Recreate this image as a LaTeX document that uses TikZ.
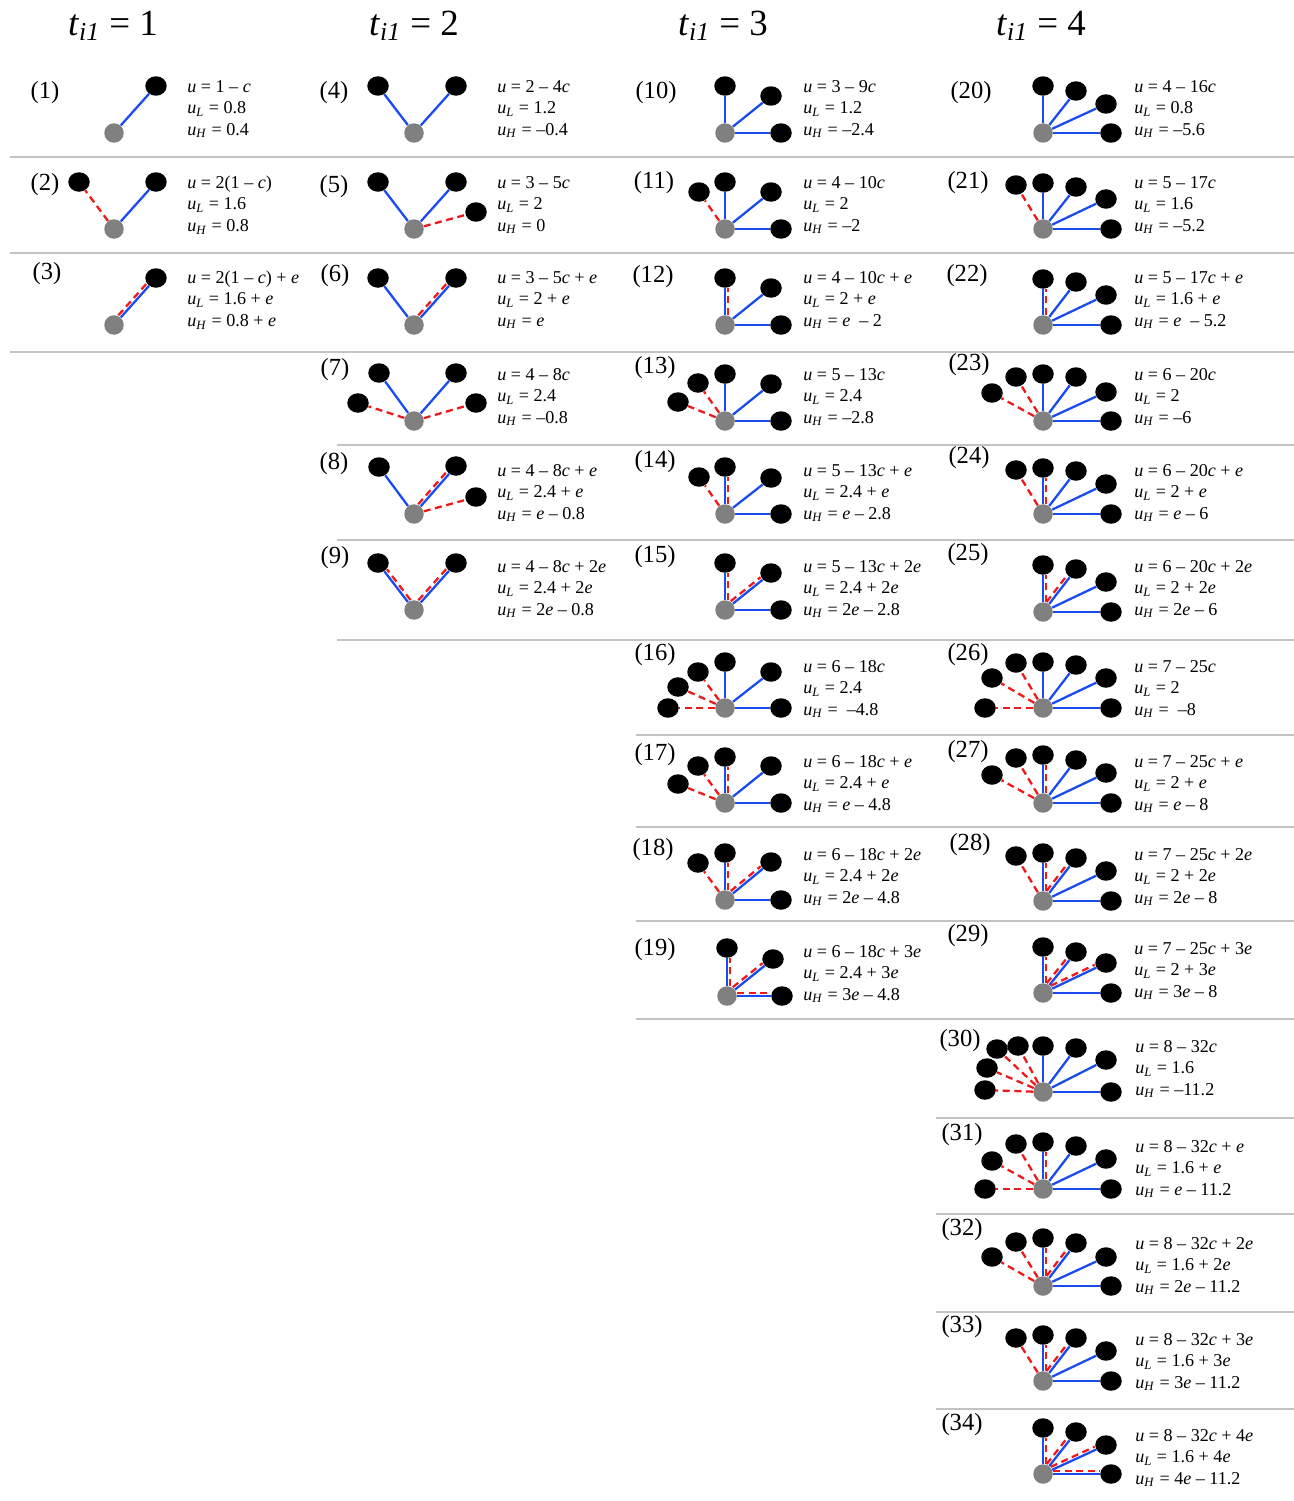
\documentclass[tikz,border=0pt]{standalone}
\usepackage{fontspec}
\setmainfont{Liberation Serif}
\usetikzlibrary{shapes.geometric}
\definecolor{edgeblue}{RGB}{25,75,240}
\definecolor{edgered}{RGB}{240,25,25}
\definecolor{hubgray}{RGB}{128,128,128}
\definecolor{rulegray}{RGB}{195,195,195}
\newcommand{\uu}{\textit{u}}
\newcommand{\uL}{\textit{u}\textsubscript{\textit{L}}}
\newcommand{\uH}{\textit{u}\textsubscript{\textit{H}}}
\newcommand{\vc}{\textit{c}}
\newcommand{\ve}{\textit{e}}

\begin{document}
\begin{tikzpicture}[
  x=0.02cm,y=-0.02cm,
  hub/.style={circle,fill=hubgray,minimum size=0.39cm,inner sep=0pt},
  leaf/.style={ellipse,fill=black,minimum width=0.43cm,minimum height=0.39cm,inner sep=0pt},
  blueedge/.style={draw=edgeblue,line width=1.3pt},
  rededge/.style={draw=edgered,line width=1.3pt,dash pattern=on 4pt off 2.6pt},
  eqs/.style={anchor=west,align=left,inner sep=0pt,font=\fontsize{10.3}{12.2}\selectfont},
  numtag/.style={inner sep=0pt,font=\fontsize{14}{16}\selectfont},
  coltitle/.style={anchor=base,inner sep=0pt,font=\fontsize{21}{24}\selectfont},
  rowrule/.style={draw=rulegray,line width=1.2pt}
]
\useasboundingbox (0,0) rectangle (1294,1501);

% column titles
\node[coltitle] (c1) at (113,35) {\textit{t}\textsubscript{\textit{i1}} = 1};
\node[coltitle] (c2) at (414,35) {\textit{t}\textsubscript{\textit{i1}} = 2};
\node[coltitle] (c3) at (723,35) {\textit{t}\textsubscript{\textit{i1}} = 3};
\node[coltitle] (c4) at (1041,35) {\textit{t}\textsubscript{\textit{i1}} = 4};

% row rules
\draw[rowrule] (10,157) -- (1294,157);
\draw[rowrule] (10,253) -- (1294,253);
\draw[rowrule] (10,352) -- (1294,352);
\draw[rowrule] (337,445) -- (1294,445);
\draw[rowrule] (337,540) -- (1294,540);
\draw[rowrule] (337,640) -- (1294,640);
\draw[rowrule] (636,735) -- (1294,735);
\draw[rowrule] (636,827) -- (1294,827);
\draw[rowrule] (636,921) -- (1294,921);
\draw[rowrule] (636,1019) -- (1294,1019);
\draw[rowrule] (936,1118) -- (1294,1118);
\draw[rowrule] (936,1214) -- (1294,1214);
\draw[rowrule] (936,1312) -- (1294,1312);
\draw[rowrule] (936,1409) -- (1294,1409);

% ===== t = 1 =====
% (1)
\begin{scope}[shift={(114,133)},name prefix=p1-]
  \node[hub] (h) at (0,0) {};
  \node[leaf] (r) at (42,-47) {};
  \draw[blueedge] (h) -- (r);
\end{scope}
\node[numtag] (n1) at (45,93) {(1)};
\node[eqs] (q1) at (187,109) {\uu{} = 1 -- \vc\\\uL{} = 0.8\\\uH{} = 0.4};
% (2)
\begin{scope}[shift={(114,229)},name prefix=p2-]
  \node[hub] (h) at (0,0) {};
  \node[leaf] (l) at (-35,-47) {};
  \node[leaf] (r) at (42,-47) {};
  \draw[rededge] (h) -- (l);
  \draw[blueedge] (h) -- (r);
\end{scope}
\node[numtag] (n2) at (45,185) {(2)};
\node[eqs] (q2) at (187,205) {\uu{} = 2(1 -- \vc)\\\uL{} = 1.6\\\uH{} = 0.8};
% (3)
\begin{scope}[shift={(114,325)},name prefix=p3-]
  \node[hub] (h) at (0,0) {};
  \node[leaf] (r) at (42,-47) {};
  \draw[blueedge] (h) -- (r);
  \draw[rededge,transform canvas={shift={(-2.4,-2.2)}}] (h) -- (r);
\end{scope}
\node[numtag] (n3) at (47,274) {(3)};
\node[eqs] (q3) at (187,300) {\uu{} = 2(1 -- \vc) + \ve\\\uL{} = 1.6 + \ve\\\uH{} = 0.8 + \ve};

% ===== t = 2 =====
% (4)
\begin{scope}[shift={(414,133)},name prefix=p4-]
  \node[hub] (h) at (0,0) {};
  \node[leaf] (l) at (-36,-47) {};
  \node[leaf] (r) at (42,-47) {};
  \draw[blueedge] (h) -- (l);
  \draw[blueedge] (h) -- (r);
\end{scope}
\node[numtag] (n4) at (334,93) {(4)};
\node[eqs] (q4) at (497,109) {\uu{} = 2 -- 4\vc\\\uL{} = 1.2\\\uH{} = --0.4};
% (5)
\begin{scope}[shift={(414,229)},name prefix=p5-]
  \node[hub] (h) at (0,0) {};
  \node[leaf] (l) at (-36,-47) {};
  \node[leaf] (r) at (42,-47) {};
  \node[leaf] (x) at (62,-17) {};
  \draw[blueedge] (h) -- (l);
  \draw[blueedge] (h) -- (r);
  \draw[rededge] (h) -- (x);
\end{scope}
\node[numtag] (n5) at (334,187) {(5)};
\node[eqs] (q5) at (497,205) {\uu{} = 3 -- 5\vc\\\uL{} = 2\\\uH{} = 0};
% (6)
\begin{scope}[shift={(414,325)},name prefix=p6-]
  \node[hub] (h) at (0,0) {};
  \node[leaf] (l) at (-36,-47) {};
  \node[leaf] (r) at (42,-47) {};
  \draw[blueedge] (h) -- (l);
  \draw[blueedge] (h) -- (r);
  \draw[rededge,transform canvas={shift={(-2.4,-2.2)}}] (h) -- (r);
\end{scope}
\node[numtag] (n6) at (335,276) {(6)};
\node[eqs] (q6) at (497,300) {\uu{} = 3 -- 5\vc{} + \ve\\\uL{} = 2 + \ve\\\uH{} = \ve};
% (7)
\begin{scope}[shift={(414,421)},name prefix=p7-]
  \node[hub] (h) at (0,0) {};
  \node[leaf] (y) at (-56,-18) {};
  \node[leaf] (l) at (-35,-48) {};
  \node[leaf] (r) at (42,-48) {};
  \node[leaf] (x) at (62,-18) {};
  \draw[rededge] (h) -- (y);
  \draw[blueedge] (h) -- (l);
  \draw[blueedge] (h) -- (r);
  \draw[rededge] (h) -- (x);
\end{scope}
\node[numtag] (n7) at (335,370) {(7)};
\node[eqs] (q7) at (497,397) {\uu{} = 4 -- 8\vc\\\uL{} = 2.4\\\uH{} = --0.8};
% (8)
\begin{scope}[shift={(414,514)},name prefix=p8-]
  \node[hub] (h) at (0,0) {};
  \node[leaf] (l) at (-35,-47) {};
  \node[leaf] (r) at (42,-48) {};
  \node[leaf] (x) at (62,-17) {};
  \draw[blueedge] (h) -- (l);
  \draw[blueedge] (h) -- (r);
  \draw[rededge,transform canvas={shift={(-2.4,-2.2)}}] (h) -- (r);
  \draw[rededge] (h) -- (x);
\end{scope}
\node[numtag] (n8) at (334,464) {(8)};
\node[eqs] (q8) at (497,493) {\uu{} = 4 -- 8\vc{} + \ve\\\uL{} = 2.4 + \ve\\\uH{} = \ve{} -- 0.8};
% (9)
\begin{scope}[shift={(414,610)},name prefix=p9-]
  \node[hub] (h) at (0,0) {};
  \node[leaf] (l) at (-36,-47) {};
  \node[leaf] (r) at (42,-47) {};
  \draw[blueedge] (h) -- (l);
  \draw[rededge,transform canvas={shift={(2.6,-2)}}] (h) -- (l);
  \draw[blueedge] (h) -- (r);
  \draw[rededge,transform canvas={shift={(-2.4,-2.2)}}] (h) -- (r);
\end{scope}
\node[numtag] (n9) at (335,558) {(9)};
\node[eqs] (q9) at (497,589) {\uu{} = 4 -- 8\vc{} + 2\ve\\\uL{} = 2.4 + 2\ve\\\uH{} = 2\ve{} -- 0.8};

% ===== t = 3 =====
% (10)
\begin{scope}[shift={(725,133)},name prefix=p10-]
  \node[hub] (h) at (0,0) {};
  \node[leaf] (d) at (0,-47) {};
  \node[leaf] (e) at (46,-37) {};
  \node[leaf] (f) at (56,0) {};
  \draw[blueedge] (h) -- (d);
  \draw[blueedge] (h) -- (e);
  \draw[blueedge] (h) -- (f);
\end{scope}
\node[numtag] (n10) at (656,93) {(10)};
\node[eqs] (q10) at (803,109) {\uu{} = 3 -- 9\vc\\\uL{} = 1.2\\\uH{} = --2.4};
% (11)
\begin{scope}[shift={(725,229)},name prefix=p11-]
  \node[hub] (h) at (0,0) {};
  \node[leaf] (c) at (-26,-37) {};
  \node[leaf] (d) at (0,-47) {};
  \node[leaf] (e) at (46,-37) {};
  \node[leaf] (f) at (56,0) {};
  \draw[rededge] (h) -- (c);
  \draw[blueedge] (h) -- (d);
  \draw[blueedge] (h) -- (e);
  \draw[blueedge] (h) -- (f);
\end{scope}
\node[numtag] (n11) at (654,183) {(11)};
\node[eqs] (q11) at (803,205) {\uu{} = 4 -- 10\vc\\\uL{} = 2\\\uH{} = --2};
% (12)
\begin{scope}[shift={(725,325)},name prefix=p12-]
  \node[hub] (h) at (0,0) {};
  \node[leaf] (d) at (0,-47) {};
  \node[leaf] (e) at (46,-37) {};
  \node[leaf] (f) at (56,0) {};
  \draw[blueedge] (h) -- (d);
  \draw[rededge,transform canvas={shift={(3,0)}}] (h) -- (d);
  \draw[blueedge] (h) -- (e);
  \draw[blueedge] (h) -- (f);
\end{scope}
\node[numtag] (n12) at (653,277) {(12)};
\node[eqs] (q12) at (803,300) {\uu{} = 4 -- 10\vc{} + \ve\\\uL{} = 2 + \ve\\\uH{} = \ve{}\ \ -- 2};
% (13)
\begin{scope}[shift={(725,421)},name prefix=p13-]
  \node[hub] (h) at (0,0) {};
  \node[leaf] (b) at (-47,-19) {};
  \node[leaf] (c) at (-27,-38) {};
  \node[leaf] (d) at (0,-47) {};
  \node[leaf] (e) at (46,-37) {};
  \node[leaf] (f) at (56,0) {};
  \draw[rededge] (h) -- (b);
  \draw[rededge] (h) -- (c);
  \draw[blueedge] (h) -- (d);
  \draw[blueedge] (h) -- (e);
  \draw[blueedge] (h) -- (f);
\end{scope}
\node[numtag] (n13) at (655,368) {(13)};
\node[eqs] (q13) at (803,397) {\uu{} = 5 -- 13\vc\\\uL{} = 2.4\\\uH{} = --2.8};
% (14)
\begin{scope}[shift={(725,514)},name prefix=p14-]
  \node[hub] (h) at (0,0) {};
  \node[leaf] (c) at (-26,-37) {};
  \node[leaf] (d) at (0,-47) {};
  \node[leaf] (e) at (46,-36) {};
  \node[leaf] (f) at (56,0) {};
  \draw[rededge] (h) -- (c);
  \draw[blueedge] (h) -- (d);
  \draw[rededge,transform canvas={shift={(3,0)}}] (h) -- (d);
  \draw[blueedge] (h) -- (e);
  \draw[blueedge] (h) -- (f);
\end{scope}
\node[numtag] (n14) at (655,462) {(14)};
\node[eqs] (q14) at (803,493) {\uu{} = 5 -- 13\vc{} + \ve\\\uL{} = 2.4 + \ve\\\uH{} = \ve{} -- 2.8};
% (15)
\begin{scope}[shift={(725,610)},name prefix=p15-]
  \node[hub] (h) at (0,0) {};
  \node[leaf] (d) at (0,-47) {};
  \node[leaf] (e) at (46,-37) {};
  \node[leaf] (f) at (56,0) {};
  \draw[blueedge] (h) -- (d);
  \draw[rededge,transform canvas={shift={(3,0)}}] (h) -- (d);
  \draw[blueedge] (h) -- (e);
  \draw[rededge,transform canvas={shift={(-2.1,-2.5)}}] (h) -- (e);
  \draw[blueedge] (h) -- (f);
\end{scope}
\node[numtag] (n15) at (655,557) {(15)};
\node[eqs] (q15) at (803,589) {\uu{} = 5 -- 13\vc{} + 2\ve\\\uL{} = 2.4 + 2\ve\\\uH{} = 2\ve{} -- 2.8};
% (16)
\begin{scope}[shift={(725,708)},name prefix=p16-]
  \node[hub] (h) at (0,0) {};
  \node[leaf] (a) at (-57,0) {};
  \node[leaf] (b) at (-47,-21) {};
  \node[leaf] (c) at (-27,-36) {};
  \node[leaf] (d) at (0,-46) {};
  \node[leaf] (e) at (46,-36) {};
  \node[leaf] (f) at (56,0) {};
  \draw[rededge] (h) -- (a);
  \draw[rededge] (h) -- (b);
  \draw[rededge] (h) -- (c);
  \draw[blueedge] (h) -- (d);
  \draw[blueedge] (h) -- (e);
  \draw[blueedge] (h) -- (f);
\end{scope}
\node[numtag] (n16) at (655,655) {(16)};
\node[eqs] (q16) at (803,689) {\uu{} = 6 -- 18\vc\\\uL{} = 2.4\\\uH{} =\ \ --4.8};
% (17)
\begin{scope}[shift={(725,803)},name prefix=p17-]
  \node[hub] (h) at (0,0) {};
  \node[leaf] (b) at (-47,-19) {};
  \node[leaf] (c) at (-27,-37) {};
  \node[leaf] (d) at (0,-46) {};
  \node[leaf] (e) at (46,-37) {};
  \node[leaf] (f) at (56,0) {};
  \draw[rededge] (h) -- (b);
  \draw[rededge] (h) -- (c);
  \draw[blueedge] (h) -- (d);
  \draw[rededge,transform canvas={shift={(3,0)}}] (h) -- (d);
  \draw[blueedge] (h) -- (e);
  \draw[blueedge] (h) -- (f);
\end{scope}
\node[numtag] (n17) at (655,755) {(17)};
\node[eqs] (q17) at (803,784) {\uu{} = 6 -- 18\vc{} + \ve\\\uL{} = 2.4 + \ve\\\uH{} = \ve{} -- 4.8};
% (18)
\begin{scope}[shift={(725,900)},name prefix=p18-]
  \node[hub] (h) at (0,0) {};
  \node[leaf] (c) at (-27,-37) {};
  \node[leaf] (d) at (0,-47) {};
  \node[leaf] (e) at (46,-38) {};
  \node[leaf] (f) at (56,0) {};
  \draw[rededge] (h) -- (c);
  \draw[blueedge] (h) -- (d);
  \draw[rededge,transform canvas={shift={(3,0)}}] (h) -- (d);
  \draw[blueedge] (h) -- (e);
  \draw[rededge,transform canvas={shift={(-2.1,-2.5)}}] (h) -- (e);
  \draw[blueedge] (h) -- (f);
\end{scope}
\node[numtag] (n18) at (653,850) {(18)};
\node[eqs] (q18) at (803,877) {\uu{} = 6 -- 18\vc{} + 2\ve\\\uL{} = 2.4 + 2\ve\\\uH{} = 2\ve{} -- 4.8};
% (19)
\begin{scope}[shift={(727,996)},name prefix=p19-]
  \node[hub] (h) at (0,0) {};
  \node[leaf] (d) at (0,-48) {};
  \node[leaf] (e) at (46,-37) {};
  \node[leaf] (f) at (55,0) {};
  \draw[blueedge] (h) -- (d);
  \draw[rededge,transform canvas={shift={(3,0)}}] (h) -- (d);
  \draw[blueedge] (h) -- (e);
  \draw[rededge,transform canvas={shift={(-2.1,-2.5)}}] (h) -- (e);
  \draw[blueedge] (h) -- (f);
  \draw[rededge,transform canvas={shift={(0,-3)}}] (h) -- (f);
\end{scope}
\node[numtag] (n19) at (655,950) {(19)};
\node[eqs] (q19) at (803,974) {\uu{} = 6 -- 18\vc{} + 3\ve\\\uL{} = 2.4 + 3\ve\\\uH{} = 3\ve{} -- 4.8};

% ===== t = 4 =====
% (20)
\begin{scope}[shift={(1043,133)},name prefix=p20-]
  \node[hub] (h) at (0,0) {};
  \node[leaf] (t) at (0,-47) {};
  \node[leaf] (r2) at (33,-42) {};
  \node[leaf] (r3) at (63,-29) {};
  \node[leaf] (r4) at (68,0) {};
  \draw[blueedge] (h) -- (t);
  \draw[blueedge] (h) -- (r2);
  \draw[blueedge] (h) -- (r3);
  \draw[blueedge] (h) -- (r4);
\end{scope}
\node[numtag] (n20) at (971,93) {(20)};
\node[eqs] (q20) at (1134,109) {\uu{} = 4 -- 16\vc\\\uL{} = 0.8\\\uH{} = --5.6};
% (21)
\begin{scope}[shift={(1043,229)},name prefix=p21-]
  \node[hub] (h) at (0,0) {};
  \node[leaf] (l1) at (-27,-44) {};
  \node[leaf] (t) at (0,-46) {};
  \node[leaf] (r2) at (33,-42) {};
  \node[leaf] (r3) at (63,-30) {};
  \node[leaf] (r4) at (68,0) {};
  \draw[rededge] (h) -- (l1);
  \draw[blueedge] (h) -- (t);
  \draw[blueedge] (h) -- (r2);
  \draw[blueedge] (h) -- (r3);
  \draw[blueedge] (h) -- (r4);
\end{scope}
\node[numtag] (n21) at (968,183) {(21)};
\node[eqs] (q21) at (1134,205) {\uu{} = 5 -- 17\vc\\\uL{} = 1.6\\\uH{} = --5.2};
% (22)
\begin{scope}[shift={(1043,325)},name prefix=p22-]
  \node[hub] (h) at (0,0) {};
  \node[leaf] (t) at (0,-46) {};
  \node[leaf] (r2) at (33,-43) {};
  \node[leaf] (r3) at (63,-30) {};
  \node[leaf] (r4) at (68,0) {};
  \draw[blueedge] (h) -- (t);
  \draw[rededge,transform canvas={shift={(3,0)}}] (h) -- (t);
  \draw[blueedge] (h) -- (r2);
  \draw[blueedge] (h) -- (r3);
  \draw[blueedge] (h) -- (r4);
\end{scope}
\node[numtag] (n22) at (967,276) {(22)};
\node[eqs] (q22) at (1134,300) {\uu{} = 5 -- 17\vc{} + \ve\\\uL{} = 1.6 + \ve\\\uH{} = \ve{}\ \ -- 5.2};
% (23)
\begin{scope}[shift={(1043,421)},name prefix=p23-]
  \node[hub] (h) at (0,0) {};
  \node[leaf] (l2) at (-51,-28) {};
  \node[leaf] (l1) at (-27,-44) {};
  \node[leaf] (t) at (0,-47) {};
  \node[leaf] (r2) at (33,-44) {};
  \node[leaf] (r3) at (63,-29) {};
  \node[leaf] (r4) at (68,0) {};
  \draw[rededge] (h) -- (l2);
  \draw[rededge] (h) -- (l1);
  \draw[blueedge] (h) -- (t);
  \draw[blueedge] (h) -- (r2);
  \draw[blueedge] (h) -- (r3);
  \draw[blueedge] (h) -- (r4);
\end{scope}
\node[numtag] (n23) at (969,365) {(23)};
\node[eqs] (q23) at (1134,397) {\uu{} = 6 -- 20\vc\\\uL{} = 2\\\uH{} = --6};
% (24)
\begin{scope}[shift={(1043,514)},name prefix=p24-]
  \node[hub] (h) at (0,0) {};
  \node[leaf] (l1) at (-27,-44) {};
  \node[leaf] (t) at (0,-46) {};
  \node[leaf] (r2) at (33,-43) {};
  \node[leaf] (r3) at (63,-30) {};
  \node[leaf] (r4) at (68,0) {};
  \draw[rededge] (h) -- (l1);
  \draw[blueedge] (h) -- (t);
  \draw[rededge,transform canvas={shift={(3,0)}}] (h) -- (t);
  \draw[blueedge] (h) -- (r2);
  \draw[blueedge] (h) -- (r3);
  \draw[blueedge] (h) -- (r4);
\end{scope}
\node[numtag] (n24) at (969,458) {(24)};
\node[eqs] (q24) at (1134,493) {\uu{} = 6 -- 20\vc{} + \ve\\\uL{} = 2 + \ve\\\uH{} = \ve{} -- 6};
% (25)
\begin{scope}[shift={(1043,612)},name prefix=p25-]
  \node[hub] (h) at (0,0) {};
  \node[leaf] (t) at (0,-47) {};
  \node[leaf] (r2) at (33,-43) {};
  \node[leaf] (r3) at (63,-30) {};
  \node[leaf] (r4) at (68,0) {};
  \draw[blueedge] (h) -- (t);
  \draw[rededge,transform canvas={shift={(3,0)}}] (h) -- (t);
  \draw[blueedge] (h) -- (r2);
  \draw[rededge,transform canvas={shift={(-2.6,-2)}}] (h) -- (r2);
  \draw[blueedge] (h) -- (r3);
  \draw[blueedge] (h) -- (r4);
\end{scope}
\node[numtag] (n25) at (968,555) {(25)};
\node[eqs] (q25) at (1134,589) {\uu{} = 6 -- 20\vc{} + 2\ve\\\uL{} = 2 + 2\ve\\\uH{} = 2\ve{} -- 6};
% (26)
\begin{scope}[shift={(1043,708)},name prefix=p26-]
  \node[hub] (h) at (0,0) {};
  \node[leaf] (l3) at (-58,0) {};
  \node[leaf] (l2) at (-51,-30) {};
  \node[leaf] (l1) at (-27,-45) {};
  \node[leaf] (t) at (0,-46) {};
  \node[leaf] (r2) at (33,-43) {};
  \node[leaf] (r3) at (63,-30) {};
  \node[leaf] (r4) at (68,0) {};
  \draw[rededge] (h) -- (l3);
  \draw[rededge] (h) -- (l2);
  \draw[rededge] (h) -- (l1);
  \draw[blueedge] (h) -- (t);
  \draw[blueedge] (h) -- (r2);
  \draw[blueedge] (h) -- (r3);
  \draw[blueedge] (h) -- (r4);
\end{scope}
\node[numtag] (n26) at (968,655) {(26)};
\node[eqs] (q26) at (1134,689) {\uu{} = 7 -- 25\vc\\\uL{} = 2\\\uH{} =\ \ --8};
% (27)
\begin{scope}[shift={(1043,803)},name prefix=p27-]
  \node[hub] (h) at (0,0) {};
  \node[leaf] (l2) at (-51,-28) {};
  \node[leaf] (l1) at (-27,-45) {};
  \node[leaf] (t) at (0,-48) {};
  \node[leaf] (r2) at (33,-43) {};
  \node[leaf] (r3) at (63,-30) {};
  \node[leaf] (r4) at (68,0) {};
  \draw[rededge] (h) -- (l2);
  \draw[rededge] (h) -- (l1);
  \draw[blueedge] (h) -- (t);
  \draw[rededge,transform canvas={shift={(3,0)}}] (h) -- (t);
  \draw[blueedge] (h) -- (r2);
  \draw[blueedge] (h) -- (r3);
  \draw[blueedge] (h) -- (r4);
\end{scope}
\node[numtag] (n27) at (968,752) {(27)};
\node[eqs] (q27) at (1134,784) {\uu{} = 7 -- 25\vc{} + \ve\\\uL{} = 2 + \ve\\\uH{} = \ve{} -- 8};
% (28)
\begin{scope}[shift={(1043,901)},name prefix=p28-]
  \node[hub] (h) at (0,0) {};
  \node[leaf] (l1) at (-27,-45) {};
  \node[leaf] (t) at (0,-48) {};
  \node[leaf] (r2) at (33,-43) {};
  \node[leaf] (r3) at (63,-30) {};
  \node[leaf] (r4) at (68,0) {};
  \draw[rededge] (h) -- (l1);
  \draw[blueedge] (h) -- (t);
  \draw[rededge,transform canvas={shift={(3,0)}}] (h) -- (t);
  \draw[blueedge] (h) -- (r2);
  \draw[rededge,transform canvas={shift={(-2.6,-2)}}] (h) -- (r2);
  \draw[blueedge] (h) -- (r3);
  \draw[blueedge] (h) -- (r4);
\end{scope}
\node[numtag] (n28) at (970,845) {(28)};
\node[eqs] (q28) at (1134,877) {\uu{} = 7 -- 25\vc{} + 2\ve\\\uL{} = 2 + 2\ve\\\uH{} = 2\ve{} -- 8};
% (29)
\begin{scope}[shift={(1043,993)},name prefix=p29-]
  \node[hub] (h) at (0,0) {};
  \node[leaf] (t) at (0,-46) {};
  \node[leaf] (r2) at (33,-41) {};
  \node[leaf] (r3) at (63,-30) {};
  \node[leaf] (r4) at (68,0) {};
  \draw[blueedge] (h) -- (t);
  \draw[rededge,transform canvas={shift={(3,0)}}] (h) -- (t);
  \draw[blueedge] (h) -- (r2);
  \draw[rededge,transform canvas={shift={(-2.6,-2)}}] (h) -- (r2);
  \draw[blueedge] (h) -- (r3);
  \draw[rededge,transform canvas={shift={(-1.4,-2.9)}}] (h) -- (r3);
  \draw[blueedge] (h) -- (r4);
\end{scope}
\node[numtag] (n29) at (968,936) {(29)};
\node[eqs] (q29) at (1134,971) {\uu{} = 7 -- 25\vc{} + 3\ve\\\uL{} = 2 + 3\ve\\\uH{} = 3\ve{} -- 8};
% (30)
\begin{scope}[shift={(1043,1092)},name prefix=p30-]
  \node[hub] (h) at (0,0) {};
  \node[leaf] (l4) at (-58,-2) {};
  \node[leaf] (l3) at (-56,-24) {};
  \node[leaf] (l2) at (-46,-43) {};
  \node[leaf] (l1) at (-25,-46) {};
  \node[leaf] (t) at (0,-46) {};
  \node[leaf] (r2) at (33,-44) {};
  \node[leaf] (r3) at (63,-32) {};
  \node[leaf] (r4) at (68,0) {};
  \draw[rededge] (h) -- (l4);
  \draw[rededge] (h) -- (l3);
  \draw[rededge] (h) -- (l2);
  \draw[rededge] (h) -- (l1);
  \draw[blueedge] (h) -- (t);
  \draw[blueedge] (h) -- (r2);
  \draw[blueedge] (h) -- (r3);
  \draw[blueedge] (h) -- (r4);
\end{scope}
\node[numtag] (n30) at (960,1041) {(30)};
\node[eqs] (q30) at (1135,1069) {\uu{} = 8 -- 32\vc\\\uL{} = 1.6\\\uH{} = --11.2};
% (31)
\begin{scope}[shift={(1043,1189)},name prefix=p31-]
  \node[hub] (h) at (0,0) {};
  \node[leaf] (l3) at (-58,0) {};
  \node[leaf] (l2) at (-51,-28) {};
  \node[leaf] (l1) at (-27,-45) {};
  \node[leaf] (t) at (0,-47) {};
  \node[leaf] (r2) at (33,-43) {};
  \node[leaf] (r3) at (63,-30) {};
  \node[leaf] (r4) at (68,0) {};
  \draw[rededge] (h) -- (l3);
  \draw[rededge] (h) -- (l2);
  \draw[rededge] (h) -- (l1);
  \draw[blueedge] (h) -- (t);
  \draw[rededge,transform canvas={shift={(3,0)}}] (h) -- (t);
  \draw[blueedge] (h) -- (r2);
  \draw[blueedge] (h) -- (r3);
  \draw[blueedge] (h) -- (r4);
\end{scope}
\node[numtag] (n31) at (962,1135) {(31)};
\node[eqs] (q31) at (1135,1169) {\uu{} = 8 -- 32\vc{} + \ve\\\uL{} = 1.6 + \ve\\\uH{} = \ve{} -- 11.2};
% (32)
\begin{scope}[shift={(1043,1286)},name prefix=p32-]
  \node[hub] (h) at (0,0) {};
  \node[leaf] (l2) at (-51,-29) {};
  \node[leaf] (l1) at (-27,-44) {};
  \node[leaf] (t) at (0,-48) {};
  \node[leaf] (r2) at (33,-43) {};
  \node[leaf] (r3) at (63,-29) {};
  \node[leaf] (r4) at (68,0) {};
  \draw[rededge] (h) -- (l2);
  \draw[rededge] (h) -- (l1);
  \draw[blueedge] (h) -- (t);
  \draw[rededge,transform canvas={shift={(3,0)}}] (h) -- (t);
  \draw[blueedge] (h) -- (r2);
  \draw[rededge,transform canvas={shift={(-2.6,-2)}}] (h) -- (r2);
  \draw[blueedge] (h) -- (r3);
  \draw[blueedge] (h) -- (r4);
\end{scope}
\node[numtag] (n32) at (962,1230) {(32)};
\node[eqs] (q32) at (1135,1266) {\uu{} = 8 -- 32\vc{} + 2\ve\\\uL{} = 1.6 + 2\ve\\\uH{} = 2\ve{} -- 11.2};
% (33)
\begin{scope}[shift={(1043,1381)},name prefix=p33-]
  \node[hub] (h) at (0,0) {};
  \node[leaf] (l1) at (-27,-43) {};
  \node[leaf] (t) at (0,-46) {};
  \node[leaf] (r2) at (33,-43) {};
  \node[leaf] (r3) at (63,-30) {};
  \node[leaf] (r4) at (68,0) {};
  \draw[rededge] (h) -- (l1);
  \draw[blueedge] (h) -- (t);
  \draw[rededge,transform canvas={shift={(3,0)}}] (h) -- (t);
  \draw[blueedge] (h) -- (r2);
  \draw[rededge,transform canvas={shift={(-2.6,-2)}}] (h) -- (r2);
  \draw[blueedge] (h) -- (r3);
  \draw[blueedge] (h) -- (r4);
\end{scope}
\node[numtag] (n33) at (962,1327) {(33)};
\node[eqs] (q33) at (1135,1362) {\uu{} = 8 -- 32\vc{} + 3\ve\\\uL{} = 1.6 + 3\ve\\\uH{} = 3\ve{} -- 11.2};
% (34)
\begin{scope}[shift={(1043,1474)},name prefix=p34-]
  \node[hub] (h) at (0,0) {};
  \node[leaf] (t) at (0,-46) {};
  \node[leaf] (r2) at (33,-42) {};
  \node[leaf] (r3) at (63,-29) {};
  \node[leaf] (r4) at (68,0) {};
  \draw[blueedge] (h) -- (t);
  \draw[rededge,transform canvas={shift={(3,0)}}] (h) -- (t);
  \draw[blueedge] (h) -- (r2);
  \draw[rededge,transform canvas={shift={(-2.6,-2)}}] (h) -- (r2);
  \draw[blueedge] (h) -- (r3);
  \draw[rededge,transform canvas={shift={(-1.4,-2.9)}}] (h) -- (r3);
  \draw[blueedge] (h) -- (r4);
  \draw[rededge,transform canvas={shift={(0,-3)}}] (h) -- (r4);
\end{scope}
\node[numtag] (n34) at (962,1425) {(34)};
\node[eqs] (q34) at (1135,1458) {\uu{} = 8 -- 32\vc{} + 4\ve\\\uL{} = 1.6 + 4\ve\\\uH{} = 4\ve{} -- 11.2};
\end{tikzpicture}
\end{document}
